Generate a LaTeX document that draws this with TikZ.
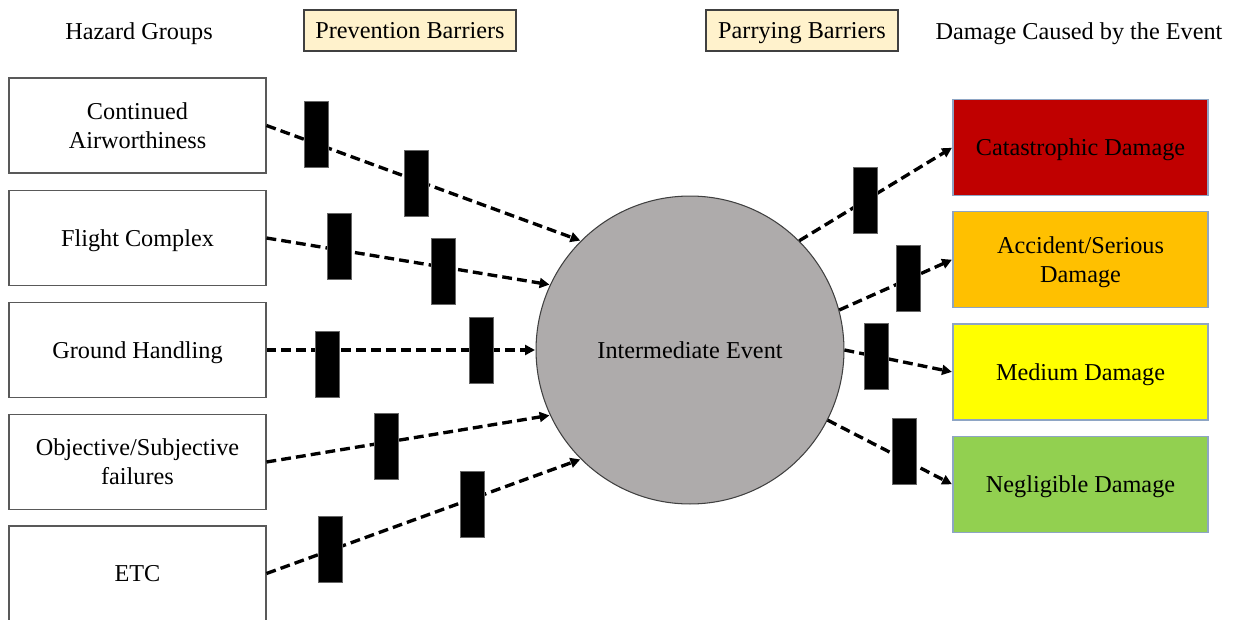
\documentclass[tikz,border=0pt]{standalone}
\usepackage{fontspec}
\setmainfont{Liberation Serif}
\usetikzlibrary{arrows.meta}

\definecolor{hdrfill}{HTML}{FFF2CC}
\definecolor{evfill}{HTML}{AEABAB}
\definecolor{rimblue}{HTML}{8EA5C4}
\definecolor{catred}{HTML}{C00000}
\definecolor{accorange}{HTML}{FFC000}
\definecolor{medyellow}{HTML}{FFFF00}
\definecolor{neggreen}{HTML}{92D050}

% struts that give every text block the full ascent and descent of the font
\newcommand\topstrut{\rule{0pt}{12.4pt}}
\newcommand\botstrut{\rule[-3.1pt]{0pt}{0pt}}

\tikzset{
  txt/.style={font=\fontsize{13.8}{16.4}\selectfont, text=black, align=center,
    execute at begin node=\topstrut, execute at end node=\botstrut},
  twoline/.style={execute at begin node={}, execute at end node={}},
  hazard/.style={txt, draw=black!65, line width=0.6pt, fill=white,
    minimum width=5.14cm, minimum height=1.9cm, inner sep=0pt},
  damage/.style={txt, draw=rimblue, line width=0.7pt,
    minimum width=5.1cm, minimum height=1.92cm, inner sep=0pt},
  header/.style={txt, draw=black!75, line width=0.7pt, fill=hdrfill,
    minimum height=0.82cm, inner sep=0pt},
  event/.style={txt, circle, draw=black!75, line width=0.6pt, fill=evfill,
    minimum size=6.16cm, inner sep=0pt},
  barrier/.style={rectangle, fill=black, draw=black!60, line width=0.3pt,
    minimum width=0.48cm, minimum height=1.32cm, inner sep=0pt},
  flow/.style={line width=1.9pt, dash pattern=on 5.6pt off 2.9pt,
    -{Triangle[length=5.6pt,width=5.6pt]}, shorten >=0.3pt},
}

\begin{document}
\begin{tikzpicture}[x=0.02cm, y=-0.02cm]
\useasboundingbox (0,0) rectangle (1239,621);
\clip (-5,-5) rectangle (1244,619.5);

% column headings
\node[txt] (hzd) at (139,31) {Hazard Groups};
\node[header, minimum width=4.24cm] (prev) at (410,30.5) {Prevention Barriers};
\node[header, minimum width=3.84cm] (parr) at (802,30.5) {Parrying Barriers};
\node[txt] (dmg) at (1079,31) {Damage Caused by the Event};

% hazard groups
\node[hazard, twoline] (h1) at (137.5,125.5) {\topstrut Continued\\Airworthiness\botstrut};
\node[hazard] (h2) at (137.5,238) {Flight Complex};
\node[hazard] (h3) at (137.5,350) {Ground Handling};
\node[hazard, twoline] (h4) at (137.5,462) {\topstrut Objective/Subjective\\failures\botstrut};
\node[hazard] (h5) at (137.5,573.5) {ETC};

% central event
\node[event] (ev) at (690,350) {Intermediate Event};

% damage outcomes
\node[damage, fill=catred] (d1) at (1080.5,147.5) {Catastrophic Damage};
\node[damage, fill=accorange, twoline] (d2) at (1080.5,259.5) {\topstrut Accident/Serious\\Damage\botstrut};
\node[damage, fill=medyellow] (d3) at (1080.5,372) {Medium Damage};
\node[damage, fill=neggreen] (d4) at (1080.5,484.5) {Negligible Damage};

% flows into the event
\draw[flow] (h1.east) -- (ev.135);
\draw[flow] (h2.east) -- (ev.155);
\draw[flow] (h3.east) -- (ev.180);
\draw[flow] (h4.east) -- (ev.205);
\draw[flow] (h5.east) -- (ev.225);

% flows out of the event
\draw[flow] (ev.45) -- (d1.west);
\draw[flow] (ev.15) -- (d2.west);
\draw[flow] (ev.0) -- (d3.west);
\draw[flow] (ev.-27) -- (d4.west);

% prevention barriers
\node[barrier] (p1a) at (316,134) {};
\node[barrier] (p1b) at (416,183) {};
\node[barrier] (p2a) at (339,246) {};
\node[barrier] (p2b) at (443,271) {};
\node[barrier] (p3a) at (327,364) {};
\node[barrier] (p3b) at (481,350) {};
\node[barrier] (p4a) at (386,446) {};
\node[barrier] (p5a) at (330,549) {};
\node[barrier] (p5b) at (472,504) {};

% parrying barriers
\node[barrier] (q1) at (865,200) {};
\node[barrier] (q2) at (908,278) {};
\node[barrier] (q3) at (876,356) {};
\node[barrier] (q4) at (904,451) {};
\end{tikzpicture}
\end{document}
